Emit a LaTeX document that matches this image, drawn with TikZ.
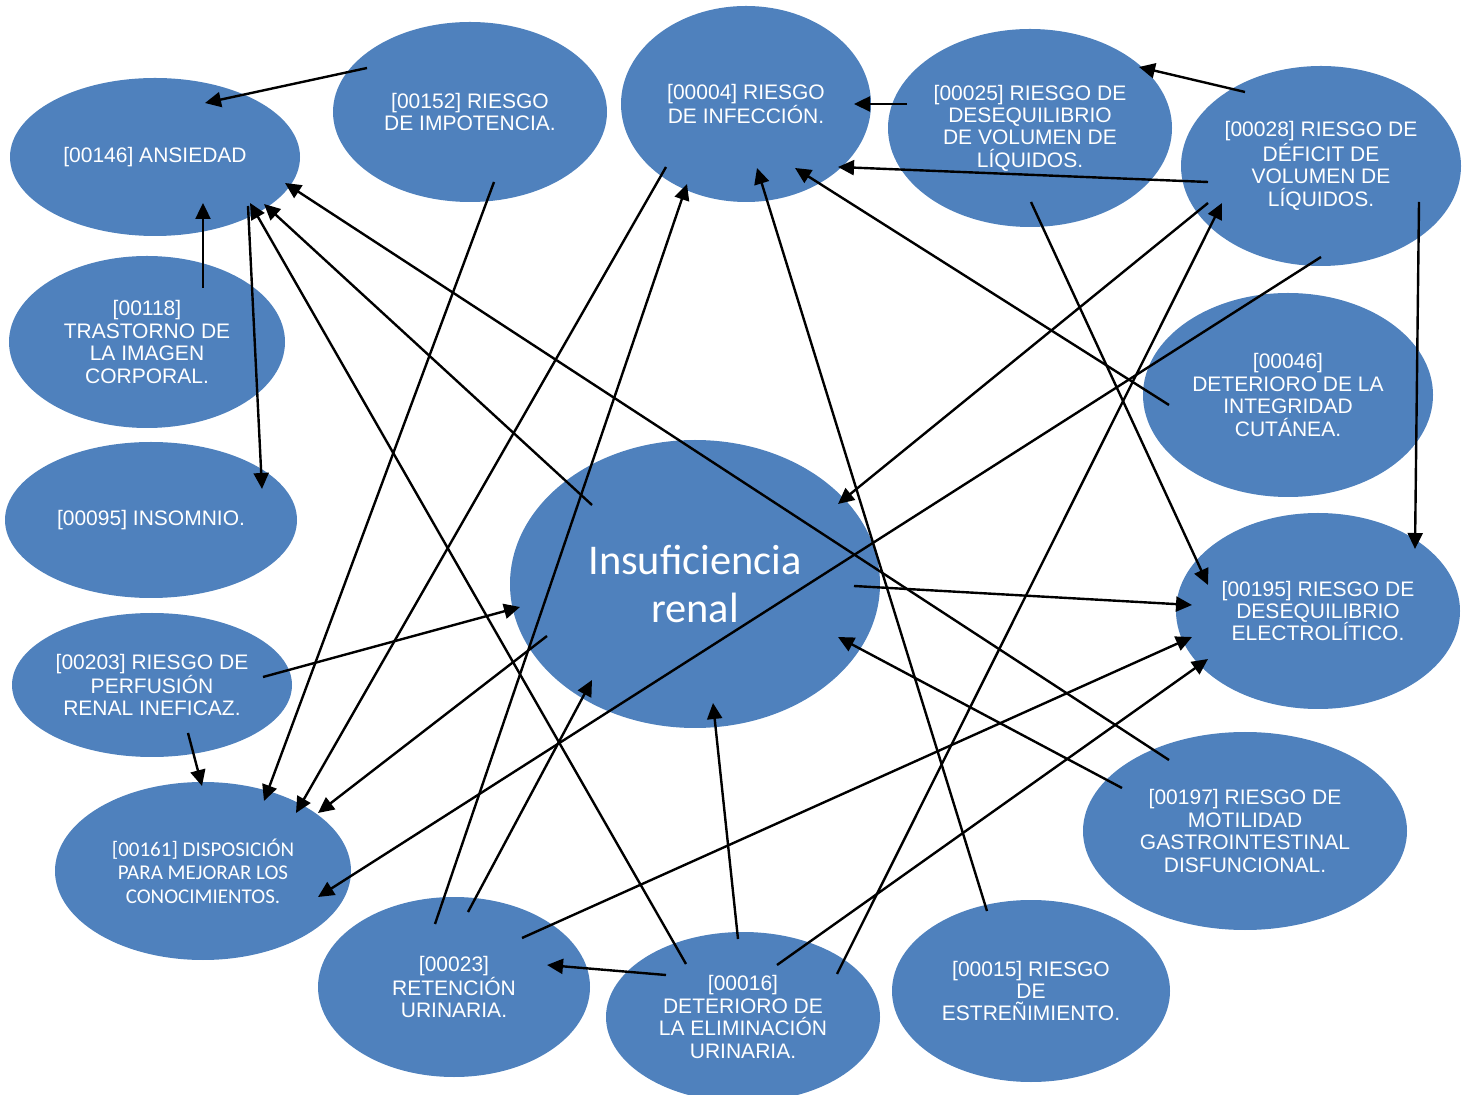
\documentclass[tikz,border=0pt]{standalone}
\usepackage{fontspec}
\setmainfont{Liberation Sans}
\newfontfamily\calibri{Carlito}
\usetikzlibrary{shapes.geometric,arrows.meta,calc}
\definecolor{nandablue}{HTML}{4F81BD}

\begin{document}
\begin{tikzpicture}[
x=0.5pt, y=-0.5pt,
dx/.style={ellipse, fill=nandablue, text=white, inner sep=0pt, align=center, font=\fontsize{10.5}{11.2}\selectfont},
cal/.style={dx, font=\calibri\fontsize{10.5}{11.7}\selectfont},
big/.style={dx, font=\calibri\fontsize{21.2}{24}\selectfont},
sz/.style 2 args={minimum width=#1pt, minimum height=#2pt},
>={Triangle[length=8pt,width=7.5pt]}, line width=1.2pt
]
\useasboundingbox (0,0) rectangle (1467,1095);
\node[dx, sz={145}{79}] (n146) at (155,157) {[00146] ANSIEDAD};
\node[dx, sz={137}{90}] (n152) at (470,112) {[00152] RIESGO\\DE IMPOTENCIA.};
\node[dx, sz={125}{98}] (n004) at (746,104) {[00004] RIESGO\\DE INFECCIÓN.};
\node[dx, sz={142}{99}] (n025) at (1030,128) {[00025] RIESGO DE\\DESEQUILIBRIO\\DE VOLUMEN DE\\LÍQUIDOS.};
\node[dx, sz={140}{100}] (n028) at (1321,166) {[00028] RIESGO DE\\DÉFICIT DE\\VOLUMEN DE\\LÍQUIDOS.};
\node[dx, sz={138}{86}] (n118) at (147,342) {[00118]\\TRASTORNO DE\\LA IMAGEN\\CORPORAL.};
\node[dx, sz={145}{102}] (n046) at (1288,395) {[00046]\\DETERIORO DE LA\\INTEGRIDAD\\CUTÁNEA.};
\node[dx, sz={146}{78}] (n095) at (151,520) {[00095] INSOMNIO.};
\node[big, sz={185}{144}] (ir) at (695,584) {Insuficiencia\\renal};
\node[dx, sz={142}{98}] (n195) at (1318,611) {[00195] RIESGO DE\\DESEQUILIBRIO\\ELECTROLÍTICO.};
\node[dx, sz={140}{72}] (n203) at (152,685) {[00203] RIESGO DE\\PERFUSIÓN\\RENAL INEFICAZ.};
\node[cal, sz={148}{89}] (n161) at (203,871) {[00161] DISPOSICIÓN\\PARA MEJORAR LOS\\CONOCIMIENTOS.};
\node[dx, sz={162}{99}] (n197) at (1245,831) {[00197] RIESGO DE\\MOTILIDAD\\GASTROINTESTINAL\\DISFUNCIONAL.};
\node[dx, sz={136}{90}] (n023) at (454,987) {[00023]\\RETENCIÓN\\URINARIA.};
\node[dx, sz={137}{85}] (n016) at (743,1017) {[00016]\\DETERIORO DE\\LA ELIMINACIÓN\\URINARIA.};
\node[dx, sz={139}{91}] (n015) at (1031,991) {[00015] RIESGO\\DE\\ESTREÑIMIENTO.};
\foreach \a/\ax/\ay/\b/\bx/\by in {
  n152/-103/-44/n146/50/-54, n118/56/-54/n146/48/46, n146/93/49/n095/111/-31,
  n016/-57/-53/n146/95/46, ir/-103/-79/n146/109/47, n197/-76/-71/n146/130/26,
  n152/24/70/n161/61/-70, n004/-80/63/n161/93/-58, ir/-148/52/n161/115/-58,
  n028/0/91/n161/115/26, n203/36/48/n161/-1/-85, n203/111/-8/ir/-175/23,
  n023/-19/-63/n004/-59/80, n023/14/-75/ir/-103/96, n023/68/-49/n195/-126/26,
  n016/-77/-42/n023/93/-22, n016/-5/-78/ir/18/119, n016/34/-52/n195/-110/48,
  n016/94/-43/n028/-99/37, n015/-44/-80/n004/11/64, n046/-119/10/n004/49/64,
  n025/-123/-24/n004/108/0, n028/-76/-74/n025/109/-61, n028/-113/16/n004/92/63,
  n028/-113/37/ir/143/-80, n028/98/36/n195/97/-62, n025/1/74/n195/-110/-26,
  ir/159/2/n195/-126/-6, n197/-123/-43/ir/143/53}
  \draw[->] ($(\a)+(\ax,\ay)$) -- ($(\b)+(\bx,\by)$);
\end{tikzpicture}
\end{document}
